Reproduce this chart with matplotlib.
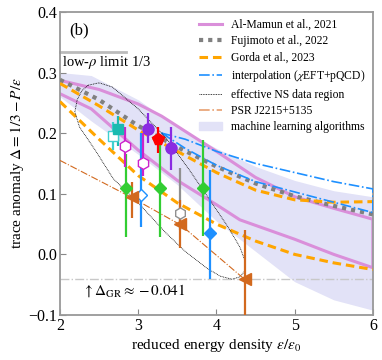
import matplotlib
matplotlib.use("Agg")
import matplotlib.pyplot as plt
from matplotlib.patches import Patch
from matplotlib.lines import Line2D

plt.rcParams['font.family'] = ['Liberation Serif', 'DejaVu Serif']
plt.rcParams['mathtext.fontset'] = 'stix'

# --- curves ---
x_grid = [2, 2.5, 3, 3.5, 4, 4.5, 5, 5.5, 6]

band_x = [2, 2.4, 3, 3.5, 4, 4.5, 5, 5.5, 6]
band_hi = [0.30, 0.295, 0.255, 0.21, 0.175, 0.145, 0.122, 0.105, 0.095]
band_lo = [0.26, 0.22, 0.165, 0.115, 0.055, 0.005, -0.045, -0.075, -0.092]

mamun_up_x = [2, 2.5, 3, 3.3, 4, 4.5, 5, 5.5, 6]
mamun_up_y = [0.287, 0.272, 0.248, 0.228, 0.17, 0.127, 0.095, 0.076, 0.058]
mamun_lo_x = [2, 2.4, 3, 3.5, 4, 4.3, 5, 5.5, 6]
mamun_lo_y = [0.265, 0.24, 0.172, 0.122, 0.082, 0.057, 0.025, 0.0, -0.022]

fuji_y = [0.288, 0.255, 0.212, 0.177, 0.145, 0.117, 0.096, 0.08, 0.066]

gorda_up_y = [0.282, 0.245, 0.205, 0.17, 0.135, 0.106, 0.09, 0.086, 0.087]
gorda_lo_y = [0.252, 0.19, 0.13, 0.085, 0.05, 0.022, 0.0, -0.014, -0.025]

interp_x = [3.3, 3.6, 4, 4.5, 5, 5.5, 6]
interp_up = [0.2, 0.19, 0.17, 0.15, 0.135, 0.12, 0.108]
interp_lo = [0.2, 0.175, 0.147, 0.12, 0.103, 0.086, 0.069]

ns_x = [2.36, 2.5, 2.67, 3.0, 3.35, 3.65, 3.92, 4.15, 4.3, 4.37, 4.36, 4.3, 4.2, 4.05,
        3.88, 3.6, 3.35, 3.0, 2.68, 2.45, 2.25, 2.19, 2.22, 2.28, 2.36]
ns_y = [0.279, 0.283, 0.276, 0.24, 0.193, 0.14, 0.089, 0.045, 0.012, -0.012, -0.028, -0.037,
        -0.041, -0.036, -0.023, 0.005, 0.036, 0.085, 0.125, 0.172, 0.21, 0.235, 0.255,
        0.27, 0.279]

psr_x = [2, 2.9, 3.55, 4.35]
psr_y = [0.155, 0.095, 0.048, -0.04]

delta_gr = -0.041

# --- data points (value, lower end, upper end of bar) ---
sqf_x, sqf_y, sqf_lo, sqf_hi = [2.74], [0.207], [0.178], [0.228]
sqo_x, sqo_y, sqo_lo, sqo_hi = [2.68], [0.195], [0.172], [0.218]
hexm_x, hexm_y = [2.83, 3.06], [0.178, 0.15]
hexm_lo, hexm_hi = [0.144, 0.13], [0.21, 0.2]
circ_x, circ_y = [3.12, 3.42], [0.206, 0.175]
circ_lo, circ_hi = [0.183, 0.139], [0.233, 0.21]
pent_x, pent_y, pent_lo, pent_hi = [3.25], [0.19], [0.168], [0.21]
diag_x, diag_y = [2.84, 3.28, 3.83], [0.109, 0.109, 0.109]
diag_lo, diag_hi = [0.028, 0.028, 0.031], [0.165, 0.188, 0.188]
diabo_x, diabo_y, diabo_lo, diabo_hi = [3.03], [0.098], [0.045], [0.2]
diabf_x, diabf_y, diabf_lo, diabf_hi = [3.92], [0.036], [-0.04], [0.139]
hexg_x, hexg_y, hexg_lo, hexg_hi = [3.54], [0.068], [0.04], [0.142]
tri_x, tri_y = [2.92, 3.54, 4.37], [0.094, 0.05, -0.04]
tri_lo, tri_hi = [0.06, 0.01, -0.13], [0.12, 0.09, 0.04]

pink = '#DA8FDA'
orange = '#FFA500'
blue = '#1E90FF'
brown = '#D2691E'

fig = plt.figure(figsize=(3.82, 3.6), dpi=100)
ax = fig.add_axes([0.157, 0.125, 0.819, 0.842])

ax.fill_between(band_x, band_lo, band_hi, color='#E2E2F7', lw=0, zorder=1)

ax.plot(mamun_up_x + mamun_lo_x[::-1], mamun_up_y + mamun_lo_y[::-1],
        color=pink, lw=2.2, zorder=2)
ax.plot(x_grid, fuji_y, color='#808080', lw=3, ls=(0, (1, 1.2)),
        dash_capstyle='butt', zorder=3)
ax.plot(x_grid, gorda_up_y, color=orange, lw=2.2, ls=(0, (2.8, 1.6)), zorder=3)
ax.plot(x_grid, gorda_lo_y, color=orange, lw=2.2, ls=(0, (2.8, 1.6)), zorder=3)
ax.plot(interp_x + interp_x[::-1], interp_up + interp_lo[::-1], color=blue,
        lw=1.2, ls='-.', zorder=3)
ax.plot(ns_x, ns_y, color='k', lw=0.6, ls=(0, (1, 1)), zorder=3)
ax.plot(psr_x, psr_y, color=brown, lw=0.8, ls='-.', zorder=3)

ax.axhline(delta_gr, color='#C8C8C8', lw=1.0, ls='-.', zorder=1)
ax.plot([2, 2.85], [1/3, 1/3], color='#BBBBBB', lw=2, zorder=2, clip_on=False)


def bars(x, y, lo, hi, **kw):
    yerr = [[v - l for v, l in zip(y, lo)], [h - v for v, h in zip(y, hi)]]
    ax.errorbar(x, y, yerr=yerr, ls='none', elinewidth=1.6, capsize=0, zorder=5, **kw)


bars(diag_x, diag_y, diag_lo, diag_hi, marker='D', ms=6.5, color='#32CD32')
bars(diabo_x, diabo_y, diabo_lo, diabo_hi, marker='D', ms=6.5, color=blue, mfc='white')
bars(diabf_x, diabf_y, diabf_lo, diabf_hi, marker='D', ms=6.5, color=blue)
bars(hexg_x, hexg_y, hexg_lo, hexg_hi, marker='h', ms=8, color='#909090', mfc='white')
bars(tri_x, tri_y, tri_lo, tri_hi, marker='<', ms=8, color=brown)
bars(hexm_x, hexm_y, hexm_lo, hexm_hi, marker='h', ms=8.5, color='#CC22CC', mfc='white')
bars(sqo_x, sqo_y, sqo_lo, sqo_hi, marker='s', ms=7, color='#40CFCF', mfc='white')
bars(sqf_x, sqf_y, sqf_lo, sqf_hi, marker='s', ms=7.5, color='#1ABAB0')
bars(circ_x, circ_y, circ_lo, circ_hi, marker='o', ms=8, color='#8A2BE2')
bars(pent_x, pent_y, pent_lo, pent_hi, marker='p', ms=8.5, color='red')

ax.text(2.12, 0.37, '(b)', fontsize=12, va='center')
ax.text(2.02, 0.317, r'low-$\rho$ limit 1/3', fontsize=10.5, va='center')
ax.text(2.28, -0.06, r'$\uparrow\Delta_{\rm GR}\approx -0.041$', fontsize=11, va='center')

ax.set_xlim(2, 6)
ax.set_ylim(-0.1, 0.4)
ax.set_xticks([2, 3, 4, 5, 6])
ax.set_yticks([-0.1, 0.0, 0.1, 0.2, 0.3, 0.4])
ax.tick_params(direction='in', length=4, color='#888888', labelsize=11.5, pad=2)
for s in ax.spines.values():
    s.set_color('#999999')
    s.set_linewidth(1.3)
ax.set_xlabel(r'reduced energy density $\varepsilon/\varepsilon_0$', fontsize=11, labelpad=2)
ax.set_ylabel(r'trace anomaly $\Delta = 1/3 - P/\varepsilon$', fontsize=11, labelpad=2)

handles = [
    Line2D([], [], color=pink, lw=2.2),
    Line2D([], [], color='#808080', lw=3, ls=(0, (1, 1.2)), dash_capstyle='butt'),
    Line2D([], [], color=orange, lw=2.2, ls=(0, (2.8, 1.6))),
    Line2D([], [], color=blue, lw=1.2, ls='-.'),
    Line2D([], [], color='k', lw=0.6, ls=(0, (1, 1))),
    Line2D([], [], color='#E8A070', lw=1.2, ls='-.'),
    Patch(color='#E2E2F7'),
]
labels = ['Al-Mamun et al., 2021', 'Fujimoto et al., 2022', 'Gorda et al., 2023',
          r'interpolation ($\chi$EFT+pQCD)', 'effective NS data region',
          'PSR J2215+5135', 'machine learning algorithms']
ax.legend(handles, labels, loc='upper right', fontsize=8.4, frameon=False,
          handlelength=2.0, handletextpad=0.8, labelspacing=0.38,
          borderaxespad=0.2)

fig.savefig('out.png', dpi=100)
